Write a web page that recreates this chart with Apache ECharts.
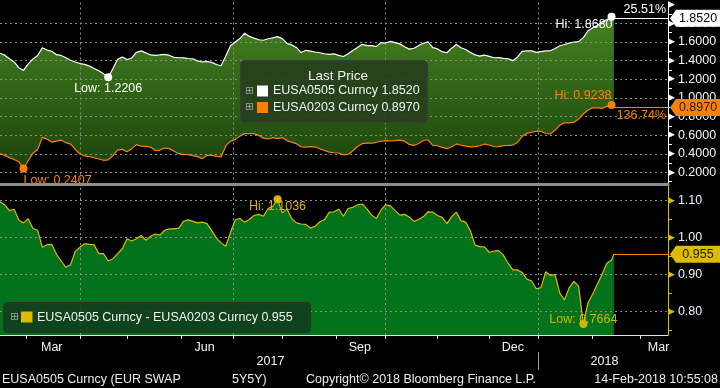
<!DOCTYPE html>
<html><head><meta charset="utf-8">
<script src="https://cdn.jsdelivr.net/npm/echarts@6/dist/echarts.min.js"></script>
<style>html,body{margin:0;padding:0;background:#000;}#c{width:720px;height:388px;}</style>
</head><body><div id="c"></div>
<script>
// ---------- DATA ----------
const whiteName = 'EUSA0505 Curncy';
const orangeName = 'EUSA0203 Curncy';
const spreadName = 'EUSA0505 Curncy - EUSA0203 Curncy';
const whitePct = '25.51%';
const orangePct = '136.74%';
const axisStart = '2017-02-14';
const axisEnd = '2018-03-19';
const dates = [
'2017-02-14','2017-02-16','2017-02-20','2017-02-22','2017-02-24','2017-02-28','2017-03-02','2017-03-06','2017-03-08','2017-03-10',
'2017-03-14','2017-03-16','2017-03-20','2017-03-22','2017-03-24','2017-03-28','2017-03-30','2017-04-03','2017-04-05','2017-04-07',
'2017-04-11','2017-04-13','2017-04-17','2017-04-19','2017-04-21','2017-04-25','2017-04-27','2017-05-01','2017-05-03','2017-05-05',
'2017-05-09','2017-05-11','2017-05-15','2017-05-17','2017-05-19','2017-05-23','2017-05-25','2017-05-29','2017-05-31','2017-06-02',
'2017-06-06','2017-06-08','2017-06-12','2017-06-14','2017-06-16','2017-06-20','2017-06-22','2017-06-26','2017-06-28','2017-06-30',
'2017-07-04','2017-07-06','2017-07-10','2017-07-12','2017-07-14','2017-07-18','2017-07-20','2017-07-24','2017-07-26','2017-07-28',
'2017-08-01','2017-08-03','2017-08-07','2017-08-09','2017-08-11','2017-08-15','2017-08-17','2017-08-21','2017-08-23','2017-08-25',
'2017-08-29','2017-08-31','2017-09-04','2017-09-06','2017-09-08','2017-09-12','2017-09-14','2017-09-18','2017-09-20','2017-09-22',
'2017-09-26','2017-09-28','2017-10-02','2017-10-04','2017-10-06','2017-10-10','2017-10-12','2017-10-16','2017-10-18','2017-10-20',
'2017-10-24','2017-10-26','2017-10-30','2017-11-01','2017-11-03','2017-11-07','2017-11-09','2017-11-13','2017-11-15','2017-11-17',
'2017-11-21','2017-11-23','2017-11-27','2017-11-29','2017-12-01','2017-12-05','2017-12-07','2017-12-11','2017-12-13','2017-12-15',
'2017-12-19','2017-12-21','2017-12-25','2017-12-27','2017-12-29','2018-01-02','2018-01-04','2018-01-08','2018-01-10','2018-01-12',
'2018-01-16','2018-01-18','2018-01-22','2018-01-24','2018-01-26','2018-01-30','2018-02-01','2018-02-05','2018-02-07','2018-02-09',
'2018-02-13','2018-02-14'];
const white = [
1.478,1.457,1.418,1.384,1.322,1.293,1.364,1.415,1.453,1.537,
1.512,1.498,1.462,1.454,1.430,1.403,1.384,1.367,1.358,1.340,
1.314,1.290,1.257,1.2206,1.312,1.412,1.438,1.410,1.427,1.487,
1.503,1.482,1.459,1.454,1.459,1.466,1.454,1.434,1.429,1.428,
1.421,1.418,1.395,1.384,1.389,1.380,1.357,1.343,1.449,1.557,
1.598,1.635,1.693,1.658,1.639,1.622,1.617,1.633,1.642,1.656,
1.634,1.583,1.567,1.540,1.485,1.509,1.501,1.491,1.483,1.472,
1.465,1.470,1.455,1.443,1.473,1.506,1.539,1.573,1.560,1.560,
1.550,1.591,1.587,1.605,1.592,1.578,1.548,1.522,1.531,1.560,
1.585,1.599,1.537,1.524,1.494,1.483,1.532,1.572,1.536,1.517,
1.486,1.460,1.447,1.458,1.444,1.429,1.430,1.423,1.419,1.398,
1.435,1.498,1.504,1.503,1.487,1.495,1.503,1.504,1.528,1.558,
1.571,1.586,1.598,1.602,1.645,1.719,1.751,1.776,1.815,1.839,
1.868,1.852];
const orange = [
0.401,0.383,0.359,0.339,0.314,0.2407,0.327,0.405,0.446,0.576,
0.557,0.524,0.535,0.547,0.519,0.503,0.447,0.398,0.377,0.368,
0.357,0.344,0.330,0.334,0.379,0.439,0.447,0.422,0.455,0.498,
0.481,0.479,0.472,0.436,0.440,0.462,0.455,0.426,0.401,0.394,
0.390,0.380,0.369,0.346,0.383,0.383,0.372,0.366,0.484,0.535,
0.553,0.589,0.616,0.616,0.616,0.597,0.567,0.558,0.573,0.563,
0.573,0.541,0.524,0.508,0.474,0.471,0.477,0.473,0.453,0.435,
0.417,0.411,0.408,0.389,0.393,0.432,0.478,0.508,0.514,0.513,
0.523,0.534,0.541,0.537,0.540,0.547,0.535,0.500,0.489,0.510,
0.542,0.550,0.489,0.486,0.469,0.455,0.472,0.506,0.491,0.481,
0.473,0.476,0.486,0.504,0.494,0.475,0.477,0.487,0.489,0.493,
0.521,0.584,0.621,0.630,0.641,0.641,0.617,0.613,0.651,0.707,
0.732,0.731,0.736,0.772,0.826,0.869,0.892,0.892,0.886,0.908,
0.9238,0.897];
const spread = [
1.097,1.089,1.073,1.077,1.048,1.040,1.051,1.025,1.020,0.974,
0.981,0.982,0.955,0.937,0.920,0.927,0.963,0.974,0.984,0.982,
0.981,0.957,0.957,0.937,0.943,0.957,0.970,0.997,0.991,0.997,
1.006,0.993,1.004,1.010,1.007,1.020,1.024,1.024,1.026,1.044,
1.048,1.044,1.040,1.042,1.038,1.019,0.999,0.986,0.977,1.014,
1.048,1.052,1.042,1.049,1.060,1.063,1.058,1.079,1.085,1.1036,
1.067,1.078,1.052,1.040,1.037,1.036,1.026,1.031,1.043,1.049,
1.069,1.070,1.077,1.058,1.079,1.082,1.089,1.091,1.078,1.061,
1.052,1.075,1.089,1.086,1.073,1.061,1.063,1.056,1.044,1.049,
1.057,1.070,1.069,1.060,1.055,1.038,1.057,1.069,1.046,1.042,
1.018,0.980,0.976,0.975,0.960,0.964,0.965,0.953,0.931,0.913,
0.913,0.906,0.888,0.883,0.862,0.865,0.908,0.898,0.900,0.850,
0.832,0.865,0.882,0.869,0.7664,0.824,0.848,0.875,0.901,0.931,
0.940,0.955];
const monthStarts = ['2017-03-01','2017-04-03','2017-05-01','2017-06-01','2017-07-03','2017-08-01','2017-09-01','2017-10-02','2017-11-01','2017-12-01','2018-01-01','2018-02-01','2018-03-01'];
const quarterStarts = ['2017-04-03','2017-07-03','2017-10-02','2018-01-01'];
const monthLabelDates = ['2017-03-16','2017-06-15','2017-09-15','2017-12-15','2018-03-13'];
const monthLabelNames = ['Mar','Jun','Sep','Dec','Mar'];
const yearLabelDates = ['2017-07-25','2018-02-08'];
const yearLabelNames = ['2017','2018'];
const yearBreaks = ['2018-01-01'];
const topMin = 0.0705, topMax = 2.0267;
const topLabels = [0.2,0.4,0.6,0.8,1.0,1.2,1.4,1.6,1.8,2.0];
const topMinor = [0.1,0.3,0.5,0.7,0.9,1.1,1.3,1.5,1.7,1.9];
const topGrid = [0.2,0.4,0.6,0.8,1.0,1.2,1.4,1.6,1.8];
const botMin = 0.737, botMax = 1.1397;
const botLabels = [0.8,0.9,1.0,1.1];
const botMinor = [0.75,0.85,0.95,1.05];
const legendTitle = 'Last Price';
const footerLeft = 'EUSA0505 Curncy (EUR SWAP';
const footerMid = '5Y5Y)';
const footerCopy = 'Copyright\u00A9 2018 Bloomberg Finance L.P.';
const footerTime = '14-Feb-2018 10:55:08';

// ---------- BUILD ----------
function weekdays(a, b) {
  const out = []; let d = new Date(a + 'T00:00:00Z'); const e = new Date(b + 'T00:00:00Z');
  while (d <= e) { const w = d.getUTCDay(); if (w !== 0 && w !== 6) out.push(d.toISOString().slice(0, 10)); d = new Date(d.getTime() + 86400000); }
  return out;
}
const cats = weekdays(axisStart, axisEnd);
const idx = s => cats.indexOf(s);
const endIdx = cats.length - 1;
const lastIdx = idx(dates[dates.length - 1]);
const xy = arr => dates.map((d, i) => [idx(d), arr[i]]);
const lastW = white[white.length - 1], lastO = orange[orange.length - 1], lastS = spread[spread.length - 1];
const FONT = 'Liberation Sans';
const FS = 12.5;
const WHITE = '#ffffff', ORANGE = '#ff8000', YELLOW = '#dcbc00', GOLD = '#d6b400';
const tagPath = 'path://M0,8.5L6,0L50,0L50,17L6,17Z';
const gridLine = {color: '#8e8e8e', width: 1, type: [2, 3]};
const txtFont = FS + 'px "Liberation Sans"';

function tag(value, fill, textColor, text) {
  return {coord: [endIdx, value], symbol: tagPath, symbolSize: [50, 17], symbolOffset: [27, 0], symbolKeepAspect: false,
    itemStyle: {color: fill},
    label: {show: true, position: 'inside', formatter: text, color: textColor, fontSize: FS, fontFamily: FONT, offset: [3, 0]}};
}
function ext(type, color, fmtPrefix, align, offset) {
  return {type: type, symbol: 'circle', symbolSize: 8, itemStyle: {color: color},
    label: {show: true, position: 'inside', align: align, verticalAlign: 'middle', offset: offset, color: color,
      fontSize: FS, fontFamily: FONT, formatter: p => fmtPrefix + Number(p.value).toFixed(4)}};
}
const inSet = arr => (i, v) => arr.indexOf(v) >= 0;
function T(x, y, text, fill, font, align) {
  return {type: 'text', x: x, y: y, z: 100, silent: true,
    style: {text: text, fill: fill, font: font || txtFont, align: align || 'left', verticalAlign: 'middle'}};
}
function R(x, y, w, h, fill, stroke, r) {
  return {type: 'rect', z: 100, silent: true, shape: {x: x, y: y, width: w, height: h, r: r || 0},
    style: {fill: fill, stroke: stroke || null, lineWidth: 1}};
}

const option = {
  animation: false,
  backgroundColor: '#000',
  textStyle: {fontFamily: FONT},
  grid: [
    {left: -2, width: 670, top: 0, height: 184.5},
    {left: -2, width: 670, top: 186, height: 149}
  ],
  xAxis: [
    {gridIndex: 0, type: 'category', data: cats, boundaryGap: false, z: 20,
      axisLine: {show: true, lineStyle: {color: '#8c8c8c', width: 3}}, axisTick: {show: false}, axisLabel: {show: false}, splitLine: {show: false}},
    {gridIndex: 1, type: 'category', data: cats, boundaryGap: false, z: 20,
      axisLine: {show: true, lineStyle: {color: '#e6e6e6', width: 1}},
      axisTick: {show: true, interval: inSet(monthStarts), length: 4, lineStyle: {color: '#e6e6e6'}},
      axisLabel: {show: true, interval: inSet(monthLabelDates), formatter: v => monthLabelNames[monthLabelDates.indexOf(v)] || '', color: '#f2f2f2', fontSize: FS, fontFamily: FONT, margin: 6},
      splitLine: {show: false}},
    {gridIndex: 1, type: 'category', data: cats, boundaryGap: false, offset: 17, position: 'bottom',
      axisLine: {show: false},
      axisTick: {show: true, interval: inSet(yearBreaks), length: 18, lineStyle: {color: '#9a9a9a'}},
      axisLabel: {show: true, interval: inSet(yearLabelDates), formatter: v => yearLabelNames[yearLabelDates.indexOf(v)] || '', color: '#f2f2f2', fontSize: FS, fontFamily: FONT, margin: 3},
      splitLine: {show: false}}
  ],
  yAxis: [
    {gridIndex: 0, type: 'value', position: 'right', min: topMin, max: topMax, scale: true,
      axisLine: {show: true, lineStyle: {color: '#ffffff', width: 1}},
      axisTick: {show: true, customValues: topMinor, length: 4, lineStyle: {color: '#ffffff'}},
      axisLabel: {show: true, customValues: topLabels, margin: 0,
        formatter: v => Math.abs(v - 2.0) < 1e-6 ? '{t|\u25B6}' : '{t|\u25B6}{v|' + v.toFixed(4) + '}',
        rich: {t: {color: '#ffffff', fontSize: 9, fontFamily: 'DejaVu Sans'}, v: {color: '#f4f4f4', fontSize: FS, fontFamily: FONT, padding: [0, 0, 0, 3]}}},
      splitLine: {show: false}},
    {gridIndex: 1, type: 'value', position: 'right', min: botMin, max: botMax, scale: true,
      axisLine: {show: true, lineStyle: {color: YELLOW, width: 1}},
      axisTick: {show: true, customValues: botMinor, length: 4, lineStyle: {color: YELLOW}},
      axisLabel: {show: true, customValues: botLabels, margin: 0,
        formatter: v => '{t|\u25B6}{v|' + v.toFixed(2) + '}',
        rich: {t: {color: YELLOW, fontSize: 9, fontFamily: 'DejaVu Sans'}, v: {color: '#eef2ff', fontSize: FS, fontFamily: FONT, padding: [0, 0, 0, 3]}}},
      splitLine: {show: false}}
  ],
  series: [
    {name: 'whiteArea', type: 'line', xAxisIndex: 0, yAxisIndex: 0, data: xy(white), symbol: 'none', silent: true, z: 1,
      lineStyle: {width: 0}, areaStyle: {origin: 'start', opacity: 1,
        color: new echarts.graphic.LinearGradient(0, 0, 0, 1, [{offset: 0, color: '#44821f'}, {offset: 1, color: '#173d0a'}])}},
    {name: 'orangeArea', type: 'line', xAxisIndex: 0, yAxisIndex: 0, data: xy(orange), symbol: 'none', silent: true, z: 2,
      lineStyle: {width: 0}, areaStyle: {origin: 'start', opacity: 1, color: '#000000'}},
    {name: 'topGrid', type: 'line', xAxisIndex: 0, yAxisIndex: 0, data: xy(orange), symbol: 'none', silent: true, z: 3,
      lineStyle: {opacity: 0},
      markLine: {silent: true, symbol: ['none', 'none'], label: {show: false}, lineStyle: gridLine,
        data: topGrid.map(v => ({yAxis: v})).concat(quarterStarts.map(d => ({xAxis: idx(d)})))}},
    {name: whiteName, type: 'line', xAxisIndex: 0, yAxisIndex: 0, data: xy(white), symbol: 'none', z: 5, clip: false,
      lineStyle: {color: WHITE, width: 1.2}, itemStyle: {color: WHITE},
      markLine: {silent: true, symbol: ['none', 'none'],
        lineStyle: {color: WHITE, width: 1.2, type: 'solid'},
        label: {show: true, position: 'insideEndTop', formatter: whitePct, color: WHITE, fontSize: FS, fontFamily: FONT, distance: 2},
        data: [[{coord: [lastIdx, lastW]}, {coord: [endIdx, lastW]}]]},
      markPoint: {silent: true, data: [
        ext('min', WHITE, 'Low: ', 'center', [0, 11.5]),
        ext('max', WHITE, 'Hi: ', 'right', [1, 7.5]),
        tag(lastW, '#ffffff', '#000000', lastW.toFixed(4))]}},
    {name: orangeName, type: 'line', xAxisIndex: 0, yAxisIndex: 0, data: xy(orange), symbol: 'none', z: 5, clip: false,
      lineStyle: {color: ORANGE, width: 1.2}, itemStyle: {color: ORANGE},
      markLine: {silent: true, symbol: ['none', 'none'],
        lineStyle: {color: ORANGE, width: 1.2, type: 'solid'},
        label: {show: true, position: 'insideEndBottom', formatter: orangePct, color: ORANGE, fontSize: FS, fontFamily: FONT, distance: 2},
        data: [[{coord: [lastIdx, lastO]}, {coord: [endIdx, lastO]}]]},
      markPoint: {silent: true, data: [
        ext('min', ORANGE, 'Low: ', 'left', [0, 11.6]),
        ext('max', ORANGE, 'Hi: ', 'right', [0, -9.3]),
        tag(lastO, ORANGE, '#1a1a1a', lastO.toFixed(4))]}},
    {name: 'spreadArea', type: 'line', xAxisIndex: 1, yAxisIndex: 1, data: xy(spread), symbol: 'none', silent: true, z: 1,
      lineStyle: {width: 0}, areaStyle: {origin: 'start', opacity: 1, color: '#04711b'}},
    {name: 'botGrid', type: 'line', xAxisIndex: 1, yAxisIndex: 1, data: xy(spread), symbol: 'none', silent: true, z: 3,
      lineStyle: {opacity: 0},
      markLine: {silent: true, symbol: ['none', 'none'], label: {show: false}, lineStyle: gridLine,
        data: botLabels.map(v => ({yAxis: v})).concat(quarterStarts.map(d => ({xAxis: idx(d)})))}},
    {name: spreadName, type: 'line', xAxisIndex: 1, yAxisIndex: 1, data: xy(spread), symbol: 'none', z: 5, clip: false,
      lineStyle: {color: YELLOW, width: 1.2}, itemStyle: {color: YELLOW},
      markLine: {silent: true, symbol: ['none', 'none'], label: {show: false},
        lineStyle: {color: ORANGE, width: 1.2, type: 'solid'},
        data: [[{coord: [lastIdx, lastS]}, {coord: [endIdx, lastS]}]]},
      markPoint: {silent: true, data: [
        ext('min', GOLD, 'Low: ', 'center', [0, -5]),
        ext('max', GOLD, 'Hi: ', 'center', [0, 6.7]),
        tag(lastS, YELLOW, '#1a1a1a', lastS.toFixed(3))]}}
  ],
  graphic: {elements: [
    R(240.5, 60.5, 187, 62, 'rgba(38,62,28,0.88)', '#3c3c3c', 4),
    T(338, 76, legendTitle, '#f2f2f2', '13.5px "Liberation Sans"', 'center'),
    T(245, 91, '\u229E', '#9a9a9a', '11px "DejaVu Sans"'),
    R(257, 85.5, 11, 11, WHITE),
    T(273, 91, whiteName + ' ' + lastW.toFixed(4), '#f2f2f2'),
    T(245, 107.5, '\u229E', '#9a9a9a', '11px "DejaVu Sans"'),
    R(257, 102, 11, 11, ORANGE),
    T(273, 107.5, orangeName + ' ' + lastO.toFixed(4), '#f2f2f2'),
    R(3.5, 302.5, 307, 30, 'rgba(18,62,30,0.9)', '#2e2e2e', 4),
    T(10, 317, '\u229E', '#9a9a9a', '11px "DejaVu Sans"'),
    R(21, 311.5, 11.5, 11, YELLOW),
    T(37, 318, spreadName + ' ' + lastS.toFixed(3), '#f2f2f2'),
    T(2, 380, footerLeft, '#ececec'),
    T(232, 380, footerMid, '#ececec'),
    T(306, 380, footerCopy, '#ececec'),
    T(718, 380, footerTime, '#ececec', null, 'right')
  ]}
};
const chart = echarts.init(document.getElementById('c'));
chart.setOption(option);
</script>
</body></html>
